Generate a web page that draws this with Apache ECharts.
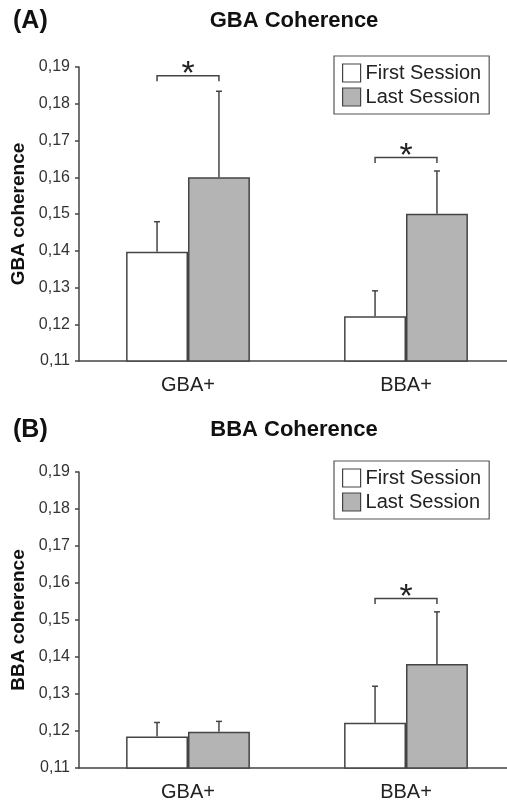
<!DOCTYPE html>
<html>
<head>
<meta charset="utf-8">
<title>GBA / BBA Coherence</title>
<script src="https://cdn.jsdelivr.net/npm/echarts@6/dist/echarts.min.js"></script>
<style>
  html, body { margin: 0; padding: 0; background: #fff; }
  #chart { width: 507px; height: 805px; }
</style>
</head>
<body>
<div id="chart"></div>
<script>
// Groups on the x axis
const categories = ['GBA+', 'BBA+'];
const sessionNames = ['First Session', 'Last Session'];

// Panel A: GBA coherence (mean and standard error)
const gbaFirst = [0.1397, 0.1222];
const gbaFirstSE = [0.0082, 0.0069];
const gbaLast = [0.1600, 0.1501];
const gbaLastSE = [0.0234, 0.0116];
// significance brackets: [category index, bracket height]
const gbaSig = [[0, 0.1876], [1, 0.1654]];

// Panel B: BBA coherence (mean and standard error)
const bbaFirst = [0.1185, 0.1222];
const bbaFirstSE = [0.0038, 0.0099];
const bbaLast = [0.1198, 0.1381];
const bbaLastSE = [0.0028, 0.0141];
const bbaSig = [[1, 0.1558]];

// Y axis range and tick step shared by both panels
const yMin = 0.11, yMax = 0.19, yStep = 0.01;

const FONT = '"Liberation Sans", Arial, Helvetica, sans-serif';
const INK = '#444';
const BAR_FRAC = 0.284;   // bar width as a fraction of a category band

function errorBar(sign) {
  return function (params, api) {
    const cat = api.value(0), mean = api.value(1), se = api.value(2);
    const base = api.coord([cat, mean]);
    const top = api.coord([cat, mean + se]);
    const band = api.size([1, 0])[0];
    const x = base[0] + sign * band * BAR_FRAC / 2;
    const st = { stroke: INK, lineWidth: 1.5 };
    return {
      type: 'group',
      children: [
        { type: 'line', shape: { x1: x, y1: base[1], x2: x, y2: top[1] }, style: st },
        { type: 'line', shape: { x1: x - 3, y1: top[1], x2: x + 3, y2: top[1] }, style: st }
      ]
    };
  };
}

function bracket(params, api) {
  const cat = api.value(0), h = api.value(1);
  const p = api.coord([cat, h]);
  const half = api.size([1, 0])[0] * BAR_FRAC / 2;
  const x1 = p[0] - half, x2 = p[0] + half, y = p[1];
  return {
    type: 'group',
    children: [
      {
        type: 'polyline',
        shape: { points: [[x1, y + 5.5], [x1, y], [x2, y], [x2, y + 5.5]] },
        style: { stroke: INK, lineWidth: 1.5, fill: null }
      },
      {
        type: 'text',
        x: p[0], y: y - 1,
        style: { text: '*', font: '34px ' + FONT, fill: '#222', align: 'center', verticalAlign: 'middle' }
      }
    ]
  };
}

function rows(means, extra) {
  return means.map((m, i) => [i, m, extra[i]]);
}

function xAxisFor(gridIndex) {
  return {
    type: 'category', gridIndex: gridIndex, data: categories,
    axisLine: { lineStyle: { color: INK, width: 1.5 } },
    axisTick: { length: 5, lineStyle: { color: INK, width: 1.5 } },
    axisLabel: { fontSize: 20, fontFamily: FONT, color: '#222', margin: 14 },
    splitLine: { show: false }
  };
}

function yAxisFor(gridIndex, name) {
  return {
    type: 'value', gridIndex: gridIndex, min: yMin, max: yMax, interval: yStep,
    name: name, nameLocation: 'middle', nameGap: 44,
    nameTextStyle: { fontSize: 19, fontWeight: 'bold', fontFamily: FONT, color: '#111' },
    axisLine: { show: true, lineStyle: { color: INK, width: 1.5 } },
    axisTick: { show: true, length: 4, lineStyle: { color: INK, width: 1.5 } },
    axisLabel: {
      fontSize: 16, fontFamily: FONT, color: '#333', margin: 9,
      formatter: v => v.toFixed(2).replace('.', ',')
    },
    splitLine: { show: false }
  };
}

function barsFor(axisIndex, first, last) {
  return [
    {
      name: sessionNames[0], type: 'bar', xAxisIndex: axisIndex, yAxisIndex: axisIndex,
      data: first, barWidth: (BAR_FRAC * 100) + '%', barGap: '0%',
      itemStyle: { color: '#ffffff', borderColor: INK, borderWidth: 1.5 }
    },
    {
      name: sessionNames[1], type: 'bar', xAxisIndex: axisIndex, yAxisIndex: axisIndex,
      data: last, barWidth: (BAR_FRAC * 100) + '%', barGap: '0%',
      itemStyle: { color: '#b4b4b4', borderColor: INK, borderWidth: 1.5 }
    }
  ];
}

function extrasFor(axisIndex, first, firstSE, last, lastSE, sig) {
  return [
    { type: 'custom', xAxisIndex: axisIndex, yAxisIndex: axisIndex, renderItem: errorBar(-1),
      data: rows(first, firstSE), z: 3, silent: true },
    { type: 'custom', xAxisIndex: axisIndex, yAxisIndex: axisIndex, renderItem: errorBar(1),
      data: rows(last, lastSE), z: 3, silent: true },
    { type: 'custom', xAxisIndex: axisIndex, yAxisIndex: axisIndex, renderItem: bracket,
      data: sig, z: 3, silent: true, clip: false }
  ];
}

function legendFor(top) {
  return {
    data: sessionNames, orient: 'vertical', left: 334, top: top,
    padding: [7, 8, 7, 8], itemGap: 4, itemWidth: 18, itemHeight: 18,
    icon: 'rect', borderColor: '#555', borderWidth: 1.2,
    textStyle: { fontSize: 20, fontFamily: FONT, color: '#222' },
    itemStyle: { borderWidth: 1.2 }
  };
}

function titleText(x, y, text, size, align) {
  return {
    type: 'text', x: x, y: y,
    style: {
      text: text, font: 'bold ' + size + 'px ' + FONT, fill: '#111',
      align: align, verticalAlign: 'middle'
    }
  };
}

const chart = echarts.init(document.getElementById('chart'), null, { renderer: 'canvas' });
chart.setOption({
  animation: false,
  backgroundColor: '#ffffff',
  grid: [
    { left: 79, width: 436, top: 67, height: 294, outerBoundsMode: 'none', containLabel: false },
    { left: 79, width: 436, top: 472, height: 296, outerBoundsMode: 'none', containLabel: false }
  ],
  xAxis: [xAxisFor(0), xAxisFor(1)],
  yAxis: [yAxisFor(0, 'GBA coherence'), yAxisFor(1, 'BBA coherence')],
  legend: [legendFor(56), legendFor(461)],
  graphic: [
    titleText(13, 21, '(A)', 25, 'left'),
    titleText(294, 21, 'GBA Coherence', 22, 'center'),
    titleText(13, 430, '(B)', 25, 'left'),
    titleText(294, 430, 'BBA Coherence', 22, 'center')
  ],
  series: [].concat(
    barsFor(0, gbaFirst, gbaLast),
    extrasFor(0, gbaFirst, gbaFirstSE, gbaLast, gbaLastSE, gbaSig),
    barsFor(1, bbaFirst, bbaLast),
    extrasFor(1, bbaFirst, bbaFirstSE, bbaLast, bbaLastSE, bbaSig)
  )
});
</script>
</body>
</html>
